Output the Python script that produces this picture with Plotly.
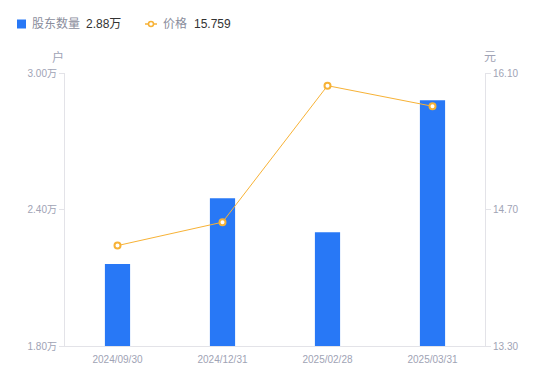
import plotly.graph_objects as go

dates = ["2024/09/30", "2024/12/31", "2025/02/28", "2025/03/31"]
holders = [2.16, 2.45, 2.30, 2.88]   # 万户
prices = [14.33, 14.57, 15.97, 15.759]  # 元

left_ticks = [1.80, 2.40, 3.00]
left_labels = ["1.80万", "2.40万", "3.00万"]
right_ticks = [13.30, 14.70, 16.10]
right_labels = ["13.30", "14.70", "16.10"]

FONT = "Liberation Sans, Noto Sans CJK SC, sans-serif"
GRAY = "#a0a3b5"
AX = "#e3e3e8"
BLUE = "#2878f6"
ORANGE = "#f7b236"

# page body has an 8px offset; compensate in margins
OFF = 8
W, H = 550, 381
L, R, T, B = 65 - OFF, W - 485 + OFF, 73 - OFF, H - 346 + OFF
PW, PH = W - L - R, H - T - B


def px(x):
    return (x - OFF - L) / PW


def py(y):
    return 1 - (y - OFF - T) / PH


fig = go.Figure()
fig.add_trace(go.Bar(
    x=dates, y=holders, marker=dict(color=BLUE, line=dict(width=0)),
    width=0.24, name="股东数量", yaxis="y", hoverinfo="skip"))
fig.add_trace(go.Scatter(
    x=dates, y=prices, mode="lines+markers",
    line=dict(color=ORANGE, width=1),
    marker=dict(size=6, color="white", line=dict(color=ORANGE, width=2)),
    name="价格", yaxis="y2", hoverinfo="skip"))

ly = 24
shapes = [
    dict(type="rect", xref="paper", yref="paper", x0=px(17), x1=px(26),
         y0=py(ly + 4.5), y1=py(ly - 4.5), fillcolor=BLUE, line=dict(width=0)),
    dict(type="line", xref="paper", yref="paper", x0=px(145), x1=px(157),
         y0=py(ly), y1=py(ly), line=dict(color=ORANGE, width=1.5)),
    dict(type="circle", xref="paper", yref="paper", x0=px(148.5), x1=px(153.5),
         y0=py(ly + 2.5), y1=py(ly - 2.5), fillcolor="white",
         line=dict(color=ORANGE, width=1.5)),
]

def ann(text, x, y, color, size=12, xanchor="left"):
    return dict(text=text, xref="paper", yref="paper", x=px(x), y=py(y),
                xanchor=xanchor, yanchor="middle", showarrow=False,
                font=dict(size=size, color=color, family=FONT))

annotations = [
    ann("股东数量", 30, ly, "#8a8d9c"),
    ann("2.88万", 84, ly, "#333333"),
    ann("价格", 161, ly, "#8a8d9c"),
    ann("15.759", 192, ly, "#333333"),
    ann("户", 58, 57, GRAY, xanchor="center"),
    ann("元", 490, 57, GRAY, xanchor="center"),
]

fig.update_layout(
    width=W, height=H,
    margin=dict(l=L, r=R, t=T, b=B),
    paper_bgcolor="white", plot_bgcolor="white",
    font=dict(family=FONT, size=10, color=GRAY),
    showlegend=False,
    xaxis=dict(type="category", showgrid=False, showline=True, linecolor=AX,
               linewidth=1, ticks="", tickfont=dict(size=10, color=GRAY),
               ticklabelstandoff=4,
               zeroline=False, automargin=False),
    yaxis=dict(range=[1.80, 3.00], tickvals=left_ticks, ticktext=left_labels,
               showgrid=False, showline=True, linecolor=AX, linewidth=1,
               ticks="outside", ticklen=5, tickcolor=AX,
               tickfont=dict(size=10, color=GRAY), zeroline=False, automargin=False),
    yaxis2=dict(range=[13.30, 16.10], tickvals=right_ticks, ticktext=right_labels,
                overlaying="y", side="right", showgrid=False, showline=True,
                linecolor=AX, linewidth=1, ticks="outside", ticklen=5, tickcolor=AX,
                tickfont=dict(size=10, color=GRAY), zeroline=False, automargin=False),
    shapes=shapes,
    annotations=annotations,
)

fig.write_html("out.html")
